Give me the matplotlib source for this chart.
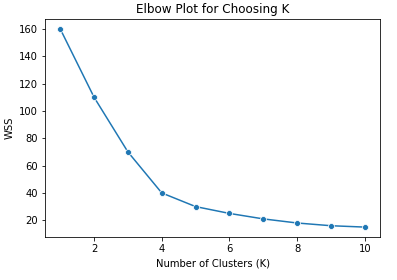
import matplotlib
matplotlib.use('Agg')
import matplotlib.pyplot as plt
import seaborn as sns

# Number of clusters and within-cluster sum of squares
k_values = [1, 2, 3, 4, 5, 6, 7, 8, 9, 10]
wss = [160, 110, 70, 40, 30, 25, 21, 18, 16, 15]

fig = plt.figure(figsize=(397 / 72, 280 / 72), dpi=72)
ax = fig.add_axes([45 / 397, 43 / 280, 335 / 397, 218 / 280])
sns.lineplot(x=k_values, y=wss, marker='o', ax=ax)
ax.set_title('Elbow Plot for Choosing K')
ax.set_xlabel('Number of Clusters (K)')
ax.set_ylabel('WSS')
fig.savefig('out.png', dpi=72)
plt.close(fig)
